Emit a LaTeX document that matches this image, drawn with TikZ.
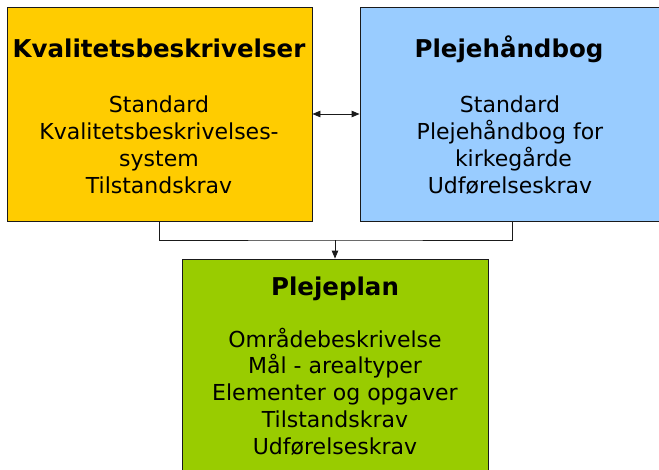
\documentclass[tikz,border=0pt]{standalone}
\usepackage{fontspec}
\setmainfont{DejaVu Sans}
\usetikzlibrary{arrows.meta}
\definecolor{kbyellow}{HTML}{FFCC00}
\definecolor{phblue}{HTML}{99CCFF}
\definecolor{ppgreen}{HTML}{99CC00}
\definecolor{edge}{HTML}{1A1A1A}
\begin{document}
\begin{tikzpicture}[x=1pt,y=-1pt,
  boxy/.style={draw=edge, line width=0.9pt, inner sep=0pt, minimum width=305pt, minimum height=214pt},
  ttl/.style={font=\fontsize{24.5}{27}\selectfont\bfseries, anchor=base, inner sep=0pt},
  bod/.style={font=\fontsize{22}{26.7}\selectfont, align=center, anchor=base, inner sep=0pt},
  conn/.style={draw=edge, line width=0.9pt},
  tip/.style={-{Triangle[length=8pt,width=6.5pt]}},
  dtip/.style={{Triangle[length=8pt,width=6.5pt]}-{Triangle[length=8pt,width=6.5pt]}}]
\useasboundingbox (0,0) rectangle (659,469);
\node[boxy, fill=kbyellow] (kb) at (159.5,114) {};
\node[boxy, fill=phblue] (ph) at (512.5,114) {};
\node[boxy, fill=ppgreen, minimum width=306pt] (pp) at (335,366) {};
% texts
\node[ttl] (kbt) at (159,57) {Kvalitetsbeskrivelser};
\node[bod] (kbb) at (159,193) {Standard\\Kvalitetsbeskrivelses-\\system\\Tilstandskrav};
\node[ttl] (pht) at (509,57) {Plejehåndbog};
\node[bod] (phb) at (510,193) {Standard\\Plejehåndbog for\\\ kirkegårde\\Udførelseskrav};
\node[ttl] (ppt) at (335,295) {Plejeplan};
\node[bod] (ppb) at (335,454) {Områdebeskrivelse\\Mål - arealtyper\\Elementer og opgaver\\Tilstandskrav\\Udførelseskrav};
% connectors
\draw[conn, dtip] (kb.east) -- (ph.west);
\coordinate (j) at (335,240);
\draw[conn] (kb.south) |- (j) -| (ph.south);
\draw[conn, tip] (j) -- (pp.north);
\end{tikzpicture}
\end{document}
